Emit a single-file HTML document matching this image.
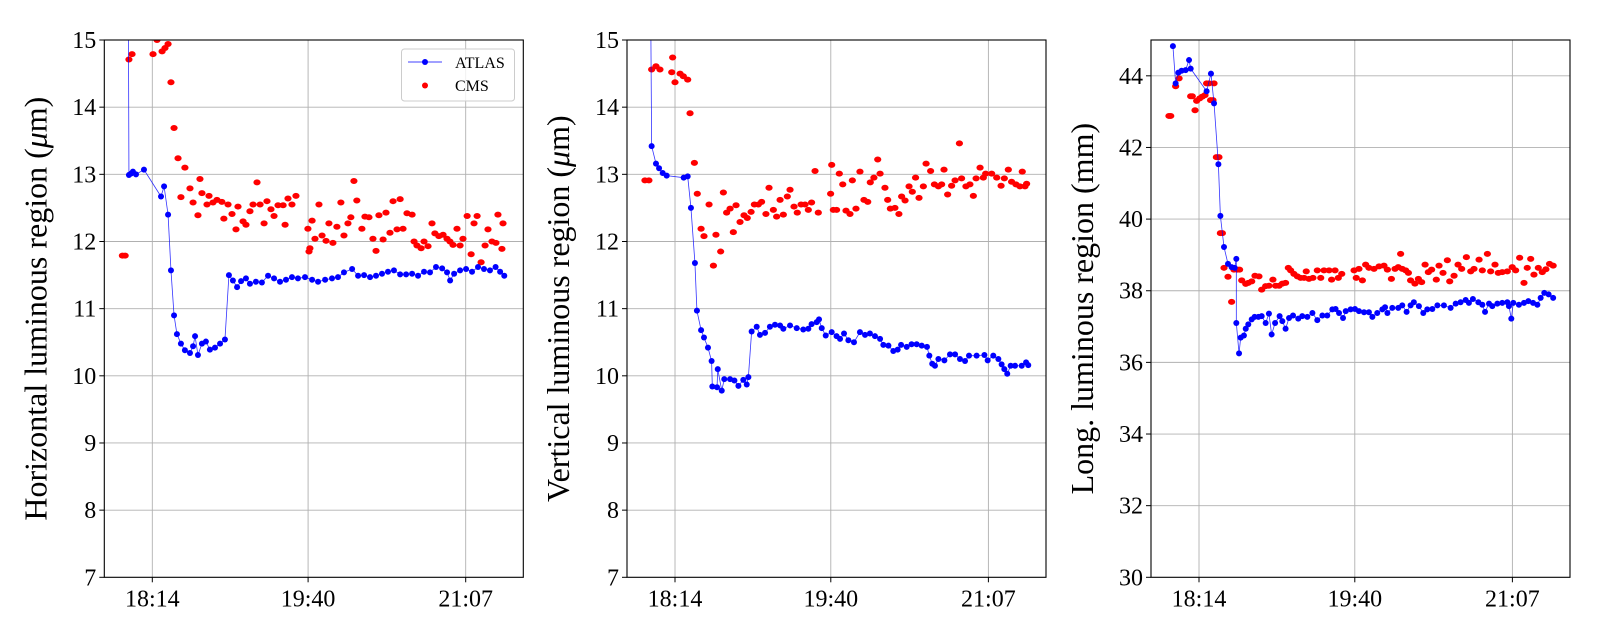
<!DOCTYPE html>
<html><head><meta charset="utf-8"><style>
html,body{margin:0;padding:0;background:#fff;}
svg{display:block;font-family:"Liberation Serif","DejaVu Serif",serif;}
</style></head><body>
<svg id="chart" width="1600" height="640" viewBox="0 0 1600 640" xmlns="http://www.w3.org/2000/svg"></svg>
<script>
// x values: minutes relative to 18:14
const xTickLabels = ["18:14", "19:40", "21:07"];
const xTickValues = [0, 86, 173];

const h_atlas_t = [-13.4,-12.9,-11.8,-10.7,-9.0,-4.6,4.8,6.5,8.7,10.3,12.0,13.6,15.8,18.0,20.8,22.5,23.6,25.2,27.4,29.6,31.8,34.6,37.4,40.1,42.3,44.5,46.8,49.0,51.7,53.9,57.2,60.5,63.9,67.2,70.5,73.8,77.1,80.4,84.3,88.2,91.5,95.4,99.2,102.5,105.8,110.3,113.6,116.9,120.2,123.5,126.8,130.1,133.4,136.8,140.1,143.4,146.7,150.0,153.3,156.6,160.0,162.7,164.4,166.6,169.9,173.2,176.5,179.8,183.1,186.4,189.5,192.0,194.3];
const h_atlas_v = [17,12.99,13.01,13.04,13.0,13.07,12.67,12.82,12.40,11.57,10.9,10.62,10.48,10.38,10.34,10.44,10.59,10.31,10.48,10.51,10.39,10.42,10.48,10.54,11.5,11.42,11.32,11.41,11.45,11.37,11.40,11.39,11.49,11.45,11.40,11.43,11.47,11.45,11.47,11.43,11.40,11.43,11.45,11.47,11.54,11.59,11.49,11.50,11.47,11.49,11.52,11.55,11.57,11.51,11.51,11.52,11.49,11.55,11.54,11.62,11.60,11.54,11.42,11.52,11.57,11.59,11.55,11.62,11.59,11.57,11.62,11.55,11.49];
const h_cms_t = [-16.5,-15.0,-12.9,-11.2,0.4,2.6,5.4,7.0,8.7,10.3,12.0,14.2,15.8,18.0,20.8,22.5,25.2,26.3,27.4,30.2,31.3,33.5,35.7,38.4,39.5,41.8,44.0,46.2,47.3,50.1,51.7,53.9,55.6,57.8,59.5,61.7,63.3,65.5,67.2,69.4,72.2,73.3,74.9,77.1,79.3,85.9,86.5,87.0,88.2,89.8,92.0,93.7,95.9,97.5,99.7,101.9,104.1,105.8,108.0,109.6,111.3,112.9,115.7,117.4,119.6,121.8,123.5,125.1,127.4,129.0,131.2,132.9,135.1,136.8,138.4,140.6,143.4,144.5,146.1,148.4,150.0,152.2,154.4,156.0,158.2,160.5,162.7,164.3,166.0,168.2,169.9,171.5,173.8,176.0,177.6,179.3,181.5,183.7,185.3,187.5,189.7,190.8,193.0,193.6];
const h_cms_v = [11.79,11.79,14.71,14.79,14.79,15.0,14.83,14.88,14.94,14.37,13.69,13.24,12.66,13.10,12.79,12.58,12.39,12.93,12.72,12.55,12.68,12.58,12.62,12.59,12.34,12.55,12.41,12.18,12.52,12.30,12.25,12.45,12.55,12.88,12.55,12.27,12.60,12.48,12.38,12.54,12.54,12.25,12.64,12.55,12.68,12.19,11.85,11.90,12.31,12.04,12.55,12.09,12.01,12.27,11.98,12.22,12.58,12.09,12.27,12.36,12.90,12.61,12.19,12.37,12.36,12.04,11.86,12.39,12.03,12.43,12.13,12.60,12.18,12.63,12.19,12.42,12.40,12.00,11.94,11.90,12.00,11.93,12.27,12.12,12.08,12.10,12.04,12.00,11.95,12.19,11.94,12.04,12.38,11.81,12.27,12.38,11.69,11.94,12.18,12.00,11.98,12.40,11.89,12.27];

const v_atlas_t = [-13.8,-12.9,-10.5,-8.8,-6.8,-4.6,4.8,7.0,8.8,11.0,12.1,14.4,16.0,18.2,20.2,20.6,23.2,23.6,25.8,27.2,30.4,32.8,35.0,37.7,39.6,40.5,42.3,45.1,46.9,49.7,52.4,55.2,58.0,59.8,63.5,67.2,70.8,73.6,75.4,78.2,79.5,81.0,83.2,86.5,89.2,91.1,93.3,95.7,98.8,102.1,104.9,107.6,110.4,113.2,115.0,117.8,120.5,122.9,124.8,127.9,130.6,133.4,136.2,139.1,140.4,142.0,143.5,145.4,148.7,151.8,154.6,157.3,160.1,162.3,166.5,170.8,172.6,175.7,178.5,180.3,181.8,183.4,185.3,187.7,191.4,193.8,195.0];
const v_atlas_v = [17,13.42,13.16,13.09,13.02,12.98,12.95,12.97,12.50,11.68,10.97,10.68,10.57,10.42,10.22,9.84,9.83,10.10,9.78,9.95,9.95,9.93,9.85,9.94,9.87,9.98,10.66,10.73,10.61,10.64,10.73,10.76,10.75,10.70,10.75,10.71,10.69,10.70,10.77,10.80,10.84,10.71,10.60,10.65,10.59,10.55,10.63,10.53,10.50,10.65,10.61,10.63,10.59,10.55,10.46,10.45,10.37,10.39,10.46,10.43,10.47,10.47,10.45,10.43,10.30,10.18,10.15,10.25,10.23,10.32,10.32,10.25,10.22,10.30,10.30,10.31,10.23,10.30,10.25,10.17,10.10,10.03,10.15,10.15,10.15,10.20,10.16];
const v_cms_t = [-16.6,-14.4,-12.9,-10.5,-8.3,-1.3,-1.8,0,2.8,4.6,7.0,8.3,10.7,12.3,14.4,16.0,18.8,21.2,22.6,25.2,26.7,28.5,30.4,32.2,33.7,35.9,38.1,39.9,42.0,43.8,46.0,47.8,50.2,51.9,54.3,56.1,58.0,59.8,62.0,63.5,65.7,67.5,69.6,71.8,73.6,75.4,77.3,79.1,85.9,86.5,87.4,89.2,90.7,92.6,94.4,96.6,97.9,99.9,102.1,104.3,106.4,107.8,109.8,111.9,113.2,115.9,117.4,118.9,121.4,123.6,125.1,127.0,129.2,131.0,132.8,134.7,137.1,138.6,141.1,143.2,145.4,147.2,148.5,150.5,152.7,154.6,157.0,158.2,160.6,162.8,164.7,166.2,168.4,170.2,171.5,174.8,177.6,180.0,181.8,184.0,185.8,188.2,190.4,191.7,193.2,194.1];
const v_cms_v = [12.91,12.91,14.56,14.61,14.56,14.74,14.52,14.37,14.50,14.46,14.41,13.91,13.17,12.71,12.19,12.08,12.55,11.64,12.10,11.85,12.73,12.43,12.49,12.14,12.54,12.29,12.39,12.35,12.44,12.55,12.55,12.59,12.41,12.80,12.47,12.37,12.62,12.40,12.67,12.77,12.52,12.43,12.55,12.55,12.47,12.58,13.05,12.43,12.71,13.14,12.47,12.47,13.01,12.85,12.46,12.41,12.91,12.49,13.04,12.62,12.59,12.88,12.95,13.22,13.01,12.80,12.62,12.49,12.50,12.41,12.67,12.61,12.82,12.74,12.95,12.65,12.82,13.16,13.05,12.85,12.82,12.85,13.07,12.70,12.83,12.91,13.46,12.94,12.82,12.85,12.68,12.94,13.10,12.95,13.01,13.01,12.95,12.83,12.94,13.07,12.89,12.85,12.82,13.04,12.82,12.86];

const l_atlas_t = [-14.4,-12.9,-11.4,-9.6,-7.4,-5.5,-4.6,4.2,6.6,8.3,10.7,11.8,13.8,16.0,18.0,19.7,20.6,20.6,22.1,23.0,24.8,25.8,27.2,29.1,30.7,32.8,34.6,36.8,38.6,40.1,42.0,44.5,46.0,47.8,49.7,51.9,54.8,57.0,59.8,62.6,65.3,68.1,70.8,73.6,75.4,77.3,79.5,81.0,83.7,86.1,88.3,91.1,93.8,95.7,98.4,101.2,102.7,104.0,106.7,110.0,112.2,114.6,116.8,118.6,121.4,123.8,126.0,128.8,131.6,135.2,138.9,141.7,144.4,147.2,149.0,151.2,154.2,156.4,157.9,160.1,161.9,164.7,167.4,170.2,171.1,172.4,173.5,176.6,179.4,181.8,184.4,186.8,188.6,190.6,193.0,195.5];
const l_atlas_v = [44.83,43.79,44.09,44.14,44.16,44.44,44.20,43.57,44.06,43.23,41.53,40.09,39.22,38.75,38.66,38.64,38.89,37.10,36.25,36.69,36.75,36.94,37.06,37.20,37.27,37.27,37.29,37.10,37.36,36.78,37.10,37.29,37.15,36.94,37.24,37.31,37.22,37.29,37.27,37.38,37.18,37.31,37.31,37.48,37.49,37.38,37.24,37.43,37.48,37.49,37.43,37.40,37.40,37.27,37.38,37.48,37.54,37.38,37.52,37.52,37.59,37.41,37.59,37.68,37.57,37.38,37.48,37.49,37.59,37.59,37.52,37.64,37.68,37.74,37.66,37.77,37.68,37.61,37.41,37.64,37.57,37.64,37.66,37.68,37.57,37.22,37.66,37.61,37.66,37.71,37.66,37.61,37.80,37.94,37.90,37.80];
const l_cms_t = [-16.6,-15.6,-12.9,-11.0,-4.6,-3.7,-2.2,-1.3,0.4,1.8,3.3,4.2,5.5,6.4,7.7,8.3,9.6,11.0,11.8,12.9,13.8,16.0,18.0,19.3,21.2,22.4,23.6,25.8,27.2,29.1,30.9,33.1,34.6,36.8,38.6,40.8,42.3,44.2,46.0,47.8,49.3,50.6,52.4,54.3,56.1,58.0,59.2,60.7,62.9,65.3,67.2,69.0,71.8,73.2,75.1,76.9,78.8,85.6,86.8,88.3,90.2,92.0,93.8,96.6,99.4,102.1,104.0,106.2,108.2,110.0,111.3,112.2,114.1,115.6,116.8,119.2,121.1,122.9,124.8,126.6,128.4,131.0,132.5,134.7,137.1,138.4,140.8,143.0,145.0,147.6,150.0,151.8,154.6,156.4,159.2,161.0,163.4,165.2,167.4,170.2,172.9,174.8,177.0,179.4,181.2,183.1,184.9,187.3,189.5,191.5,193.5,195.5];
const l_cms_v = [42.88,42.88,43.71,43.93,43.43,43.43,43.04,43.30,43.37,43.42,43.46,43.79,43.79,43.32,43.32,43.79,41.73,41.73,39.61,39.61,38.64,38.39,37.69,38.59,38.59,38.59,38.29,38.19,38.22,38.26,38.42,38.40,38.03,38.13,38.14,38.31,38.14,38.14,38.20,38.22,38.64,38.57,38.47,38.40,38.36,38.36,38.54,38.33,38.36,38.57,38.36,38.57,38.57,38.31,38.57,38.36,38.47,38.57,38.36,38.61,38.29,38.73,38.64,38.61,38.68,38.70,38.59,38.33,38.61,38.66,39.03,38.61,38.57,38.50,38.29,38.20,38.33,38.24,38.73,38.52,38.59,38.31,38.70,38.50,38.85,38.26,38.42,38.73,38.61,38.94,38.54,38.61,38.87,38.57,39.03,38.54,38.73,38.50,38.52,38.54,38.66,38.57,38.92,38.22,38.64,38.89,38.45,38.64,38.52,38.60,38.75,38.70];

const NS = "http://www.w3.org/2000/svg";
const svg = document.getElementById("chart");
function mk(tag, attrs, parent) {
  const e = document.createElementNS(NS, tag);
  for (const k in attrs) e.setAttribute(k, attrs[k]);
  (parent || svg).appendChild(e);
  return e;
}
const X0 = -26.5, X1 = 204.8;

function panel(idx, left, yMin, yMax, yTicks, yTitle, at, av, ct, cv, legend) {
  const right = left + 419, top = 40, bottom = 577.3;
  const sx = t => left + (t - X0) / (X1 - X0) * (right - left);
  const sy = v => bottom - (v - yMin) / (yMax - yMin) * (bottom - top);
  const g = mk("g", {});
  
  
  mk("clipPath", {id: "clip" + idx}, g).appendChild(
    (() => { const r = document.createElementNS(NS, "rect");
      r.setAttribute("x", left); r.setAttribute("y", top);
      r.setAttribute("width", right - left); r.setAttribute("height", bottom - top); return r; })());
  xTickValues.forEach((tv, i) => {
    const x = sx(tv);
    const gl = mk("line", {x1: x, x2: x, y1: top, y2: bottom, stroke: "#b0b0b0", "stroke-width": 0.9}, g);
    
    
    mk("line", {x1: x, x2: x, y1: bottom, y2: bottom + 5, stroke: "#000", "stroke-width": 1}, g);
    const tx = mk("text", {x: x, y: bottom + 29, "font-size": 24, "text-anchor": "middle", fill: "#000"}, g);
    tx.textContent = xTickLabels[i];
    
    
  });
  yTicks.forEach(v => {
    const y = sy(v);
    if (v > yMin && v < yMax) {
      const gl = mk("line", {x1: left, x2: right, y1: y, y2: y, stroke: "#b0b0b0", "stroke-width": 0.9}, g);
      
      
    }
    mk("line", {x1: left - 5, x2: left, y1: y, y2: y, stroke: "#000", "stroke-width": 1}, g);
    const tx = mk("text", {x: left - 8, y: y + 8, "font-size": 24, "text-anchor": "end", fill: "#000"}, g);
    tx.textContent = String(v);
    
    
  });
  const yt = mk("text", {x: 0, y: 0, "font-size": 32, "text-anchor": "middle", fill: "#000",
    transform: `translate(${left - 58},${(top + bottom) / 2}) rotate(-90)`}, g);
  yt.innerHTML = yTitle;
  
  
  const dg = mk("g", {"clip-path": `url(#clip${idx})`}, g);
  ct.forEach((t, i) => {
    const c = mk("ellipse", {cx: sx(t), cy: sy(cv[i]), rx: 3.6, ry: 3, fill: "#ff0000"}, dg);
    
    
  });
  const pl = mk("polyline", {points: at.map((t, i) => sx(t) + "," + sy(av[i])).join(" "),
    fill: "none", stroke: "#0000ff", "stroke-width": 0.8, opacity: 0.8}, dg);
  
  
  at.forEach((t, i) => {
    const c = mk("circle", {cx: sx(t), cy: sy(av[i]), r: 3, fill: "#0000ff"}, dg);
    
    
  });
  const fr = mk("rect", {x: left, y: top, width: right - left, height: bottom - top, fill: "none", stroke: "#000", "stroke-width": 1.1}, g);
  
  
  if (legend) {
    const lg = mk("g", {}, g);
    
    
    mk("rect", {x: 401.5, y: 49, width: 113, height: 52, rx: 3, fill: "#fff", "fill-opacity": 0.8, stroke: "#ccc", "stroke-width": 1}, lg);
    const e1 = mk("g", {}, lg);
    
    
    mk("line", {x1: 408, x2: 442, y1: 62, y2: 62, stroke: "#0000ff", "stroke-width": 0.8}, e1);
    mk("circle", {cx: 425, cy: 62, r: 3, fill: "#0000ff"}, e1);
    const t1 = mk("text", {x: 455, y: 68, "font-size": 16, fill: "#000"}, e1);
    t1.textContent = "ATLAS";
    const e2 = mk("g", {}, lg);
    
    
    mk("circle", {cx: 425, cy: 85.5, r: 3, fill: "#ff0000"}, e2);
    const t2 = mk("text", {x: 455, y: 91, "font-size": 16, fill: "#000"}, e2);
    t2.textContent = "CMS";
  }
}
panel(1, 104.3, 7, 15, [7,8,9,10,11,12,13,14,15], 'Horizontal luminous region (<tspan font-style="italic">μ</tspan>m)', h_atlas_t, h_atlas_v, h_cms_t, h_cms_v, true);
panel(2, 627, 7, 15, [7,8,9,10,11,12,13,14,15], 'Vertical luminous region (<tspan font-style="italic">μ</tspan>m)', v_atlas_t, v_atlas_v, v_cms_t, v_cms_v, false);
panel(3, 1151, 30, 45, [30,32,34,36,38,40,42,44], 'Long. luminous region (mm)', l_atlas_t, l_atlas_v, l_cms_t, l_cms_v, false);
</script>
</body></html>
